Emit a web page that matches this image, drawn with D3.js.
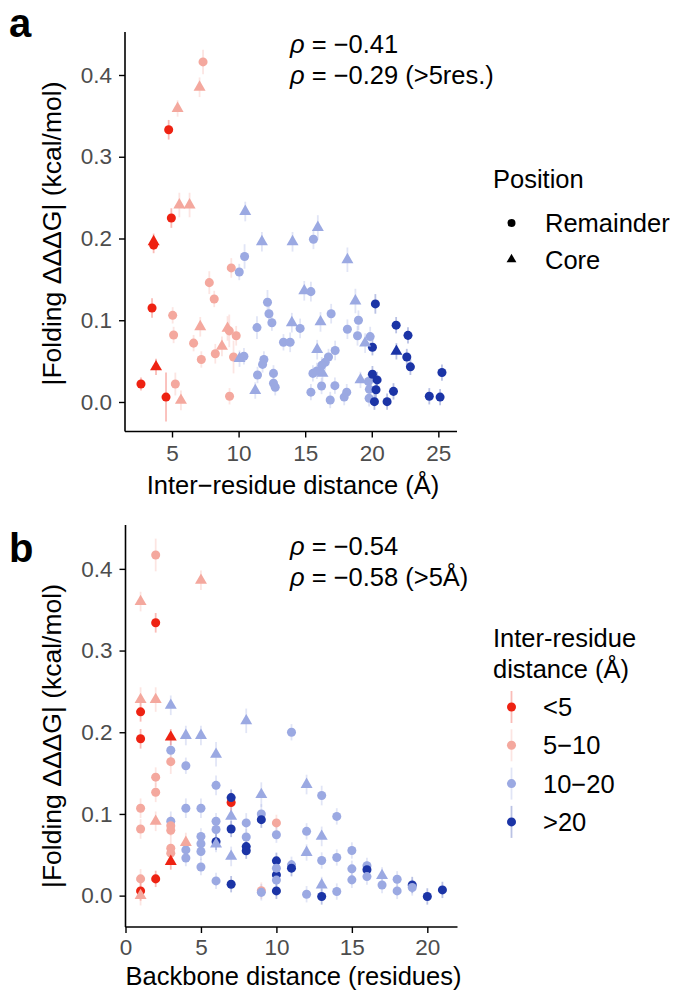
<!DOCTYPE html>
<html>
<head>
<meta charset="utf-8">
<script src="https://cdn.jsdelivr.net/npm/d3@7"></script>
<style>
  html, body { margin: 0; padding: 0; background: #fff; }
  svg { display: block; font-family: "Liberation Sans", Arial, sans-serif; }
</style>
</head>
<body>
<svg id="fig" width="676" height="994"></svg>
<script>
// Distance bins (colour) and their labels
const binLabels = ["<5", "5\u221210", "10\u221220", ">20"];
const binColors = ["#EE2212", "#F4A89E", "#9BA9E2", "#1B34A6"];
const shapeLabels = ["Remainder", "Core"];

// Panel a: [inter-residue distance (Å), |ΔΔG|, error]
const remainderA = [
  [4.75,0.333,0.012],[4.95,0.225,0.012],[3.62,0.192,0.010],[3.5,0.115,0.012],
  [2.67,0.022,0.008],[4.55,0.006,0.030],
  [7.33,0.416,0.015],[9.45,0.164,0.012],[7.8,0.146,0.014],[8.17,0.126,0.010],
  [5.05,0.106,0.010],[9.82,0.081,0.012],[5.12,0.082,0.010],[6.62,0.072,0.010],
  [8.25,0.059,0.012],[9.62,0.055,0.020],[7.2,0.052,0.010],[5.25,0.022,0.014],
  [9.32,0.007,0.010],[9.3,0.087,0.020],
  [10.45,0.178,0.015],[10.05,0.159,0.010],[12.17,0.122,0.015],[12.28,0.108,0.012],
  [12.5,0.097,0.010],[11.38,0.091,0.014],[13.37,0.073,0.010],[13.87,0.073,0.012],
  [10.4,0.056,0.010],[11.9,0.052,0.010],[11.8,0.046,0.010],[11.42,0.033,0.010],
  [12.62,0.035,0.010],[12.62,0.023,0.010],[12.75,0.018,0.010],[15.62,0.199,0.012],
  [15.43,0.135,0.012],[16.95,0.108,0.012],[19.0,0.100,0.012],[14.62,0.090,0.012],
  [18.17,0.089,0.012],[18.93,0.081,0.012],[19.88,0.080,0.012],[17.25,0.063,0.012],
  [16.75,0.055,0.010],[16.5,0.0485,0.010],[16.25,0.045,0.010],[15.88,0.038,0.010],
  [15.58,0.035,0.010],[19.75,0.025,0.010],[19.82,0.0155,0.010],[15.43,0.012,0.010],
  [16.23,0.0196,0.010],[17.23,0.020,0.010],[18.12,0.012,0.010],[17.93,0.006,0.010],
  [16.88,0.0024,0.010],[19.8,0.0045,0.010],
  [20.27,0.120,0.012],[21.83,0.094,0.010],[22.72,0.0815,0.010],[20.05,0.067,0.010],
  [22.63,0.055,0.010],[22.9,0.043,0.010],[25.27,0.036,0.010],[20.05,0.034,0.010],
  [20.4,0.027,0.010],[20.32,0.015,0.010],[21.63,0.013,0.010],[24.32,0.007,0.010],
  [25.13,0.006,0.010],[20.2,0.0004,0.010],[21.15,0.0004,0.010]
];
const coreA = [
  [7.07,0.385,0.012],[5.42,0.359,0.010],[5.55,0.241,0.015],[6.32,0.241,0.015],
  [7.12,0.092,0.012],[9.17,0.090,0.015],[8.75,0.068,0.012],[5.67,0.002,0.012],
  [3.62,0.196,0.010],[3.8,0.043,0.010],
  [10.5,0.233,0.012],[11.75,0.196,0.012],[14.05,0.196,0.012],[15.95,0.2135,0.015],
  [18.17,0.174,0.015],[14.93,0.136,0.012],[18.77,0.1235,0.015],[14.0,0.097,0.012],
  [16.15,0.098,0.012],[19.5,0.072,0.012],[15.9,0.064,0.012],[10.07,0.053,0.010],
  [11.25,0.014,0.010],[16.3,0.035,0.010],[19.15,0.027,0.010],
  [21.85,0.062,0.010]
];

// Panel b: [backbone distance (residues), |ΔΔG|, error, distance bin]
const remainderB = [
  [2,0.417,0.020,1],[2,0.334,0.012,0],[1,0.225,0.012,0],[11,0.200,0.010,2],
  [1,0.192,0.012,0],[3,0.178,0.012,2],[3,0.164,0.015,1],[4,0.159,0.010,2],
  [2,0.145,0.012,1],[2,0.1265,0.012,1],[6,0.135,0.012,2],[7,0.114,0.012,0],
  [7,0.120,0.010,3],[1,0.107,0.012,1],[4,0.107,0.012,2],[5,0.107,0.012,2],
  [9,0.100,0.012,2],[9,0.093,0.010,3],[1,0.0816,0.012,1],[3,0.091,0.012,2],
  [3,0.0856,0.012,1],[3,0.080,0.012,1],[6,0.091,0.010,2],[6,0.081,0.010,2],
  [7,0.0816,0.010,3],[8,0.089,0.012,2],[10,0.089,0.010,1],[10,0.0746,0.010,2],
  [5,0.0725,0.010,2],[5,0.0635,0.010,2],[5,0.054,0.010,2],[8,0.0717,0.010,2],
  [6,0.066,0.010,3],[4,0.056,0.010,2],[4,0.046,0.010,2],[3,0.058,0.010,1],
  [3,0.052,0.010,1],[8,0.060,0.010,3],[8,0.055,0.010,3],[5,0.035,0.010,2],
  [10,0.0426,0.010,3],[10,0.0254,0.010,3],[10,0.0336,0.010,2],[10,0.019,0.010,2],
  [11,0.0377,0.010,2],[11,0.0336,0.010,3],[1,0.0205,0.012,1],[2,0.0205,0.010,0],
  [6,0.018,0.010,2],[7,0.014,0.010,3],[1,0.0058,0.012,0],[9,0.0061,0.010,1],
  [9,0.004,0.010,2],[10,0.0058,0.010,3],[13,0.1225,0.012,2],[14,0.097,0.010,2],
  [12,0.0787,0.010,2],[13,0.043,0.010,2],[14,0.0467,0.010,2],[15,0.0553,0.010,2],
  [15,0.0328,0.010,2],[16,0.0365,0.010,2],[16,0.0316,0.010,3],[15,0.0193,0.010,2],
  [16,0.0233,0.010,2],[17,0.013,0.010,2],[18,0.020,0.010,2],[18,0.0058,0.010,2],
  [19,0.013,0.010,3],[19,0.010,0.010,2],[20,-0.001,0.010,3],[21,0.007,0.010,3],
  [12,0.0017,0.010,2],[13,-0.001,0.010,3],[14,0.005,0.010,2]
];
const coreB = [
  [5,0.386,0.012,1],[1,0.360,0.012,1],[1,0.240,0.015,1],[2,0.240,0.015,1],
  [3,0.233,0.012,2],[8,0.214,0.015,2],[3,0.194,0.010,0],[4,0.196,0.012,2],
  [5,0.196,0.012,2],[6,0.173,0.015,2],[9,0.1237,0.015,2],[2,0.091,0.012,1],
  [7,0.097,0.012,2],[4,0.065,0.012,1],[6,0.063,0.010,2],[3,0.0418,0.010,0],
  [7,0.048,0.012,2],[1,0.000,0.012,1],[12,0.136,0.012,2],[13,0.0725,0.012,2],
  [12,0.0528,0.010,2],[17,0.0246,0.010,2],[13,0.013,0.010,2]
];

// Axis ticks and correlation annotations
const yTicks = [0.0, 0.1, 0.2, 0.3, 0.4];
const xTicksA = [5, 10, 15, 20, 25];
const xTicksB = [0, 5, 10, 15, 20];
const rhoA = ["\u22120.41", "\u22120.29 (>5res.)"];
const rhoB = ["\u22120.54", "\u22120.58 (>5\u00C5)"];

const svg = d3.select("#fig");
const TXT = 25.5;   // title / legend / annotation size
const TICK = 22.5;  // tick label size

function binOf(d) { return d < 5 ? 0 : d < 10 ? 1 : d < 20 ? 2 : 3; }

function panel(opts) {
  const g = svg.append("g");
  const x = d3.scaleLinear().domain(opts.xDomain).range([opts.left, opts.right]);
  const y = d3.scaleLinear().domain(opts.yDomain).range([opts.bottom, opts.top]);

  // error bars first, then symbols
  const pts = opts.points;
  g.append("g").selectAll("line").data(pts).join("line")
    .attr("x1", d => x(d.x)).attr("x2", d => x(d.x))
    .attr("y1", d => y(d.y - d.e)).attr("y2", d => y(d.y + d.e))
    .attr("stroke", d => binColors[d.bin]).attr("stroke-opacity", 0.3)
    .attr("stroke-width", 1.8);
  const circle = d3.symbol().type(d3.symbolCircle).size(64);
  const tri = d3.symbol().type(d3.symbolTriangle).size(62);
  g.append("g").selectAll("path").data(pts).join("path")
    .attr("transform", d => `translate(${x(d.x)},${y(d.y)})`)
    .attr("d", d => d.core ? tri() : circle())
    .attr("fill", d => binColors[d.bin]);

  // axes
  const yAxis = d3.axisLeft(y).tickValues(yTicks).tickFormat(d3.format(".1f")).tickSize(6).tickPadding(7);
  const xAxis = d3.axisBottom(x).tickValues(opts.xTicks).tickFormat(d3.format("d")).tickSize(6).tickPadding(opts.xPad);
  const ya = g.append("g").attr("transform", `translate(${opts.left},0)`).call(yAxis);
  const xa = g.append("g").attr("transform", `translate(0,${opts.bottom})`).call(xAxis);
  [ya, xa].forEach(a => {
    a.select(".domain").attr("stroke", "#000").attr("stroke-width", 1.6)
      .attr("d", a === ya ? `M0,${opts.top}V${opts.bottom}` : `M${opts.left},0H${opts.right}`);
    a.selectAll(".tick line").attr("stroke", "#000").attr("stroke-width", 1.4);
    a.selectAll(".tick text").attr("fill", "#4D4D4D").style("font-size", TICK + "px")
      .style("font-family", "Liberation Sans, Arial, sans-serif");
  });
  xa.selectAll(".tick text").attr("dy", "0.71em");

  // titles
  g.append("text").attr("x", (opts.left + opts.right) / 2 + 2).attr("y", opts.xTitleY)
    .attr("text-anchor", "middle").style("font-size", TXT + "px").text(opts.xTitle);
  g.append("text")
    .attr("transform", `translate(61,${opts.yTitleMid}) rotate(-90)`)
    .attr("text-anchor", "middle").style("font-size", (TXT + 1) + "px")
    .text("|Folding \u0394\u0394\u0394G| (kcal/mol)");

  // panel letter
  g.append("text").attr("x", 9).attr("y", opts.letterY)
    .style("font-size", "40px").style("font-weight", "bold").text(opts.letter);

  // correlation text
  opts.rho.forEach((r, i) => {
    const t = g.append("text").attr("x", 290).attr("y", opts.rhoY[i])
      .style("font-size", TXT + "px");
    t.append("tspan").style("font-style", "italic").text("\u03C1");
    t.append("tspan").text(" = " + r);
  });
  return g;
}

const ptsA = [];
remainderA.forEach(d => ptsA.push({x: d[0], y: d[1], e: d[2], bin: binOf(d[0]), core: false}));
coreA.forEach(d => ptsA.push({x: d[0], y: d[1], e: d[2], bin: binOf(d[0]), core: true}));
const ptsB = [];
remainderB.forEach(d => ptsB.push({x: d[0], y: d[1], e: d[2], bin: d[3], core: false}));
coreB.forEach(d => ptsB.push({x: d[0], y: d[1], e: d[2], bin: d[3], core: true}));

panel({
  points: ptsA, xDomain: [1.47, 26.4], yDomain: [-0.0361, 0.4526],
  left: 125, right: 457, top: 32, bottom: 431.5, xTicks: xTicksA, xPad: 8,
  xTitle: "Inter\u2212residue distance (\u00C5)", xTitleY: 494, yTitleMid: 233.5,
  letter: "a", letterY: 37, rho: rhoA, rhoY: [53, 83.5]
});
panel({
  points: ptsB, xDomain: [0, 22], yDomain: [-0.0384, 0.4537],
  left: 125.5, right: 457.5, top: 525, bottom: 927, xTicks: xTicksB, xPad: 6,
  xTitle: "Backbone distance (residues)", xTitleY: 985, yTitleMid: 736,
  letter: "b", letterY: 562, rho: rhoB, rhoY: [555, 586]
});

// legend: shape
const lgA = svg.append("g");
lgA.append("text").attr("x", 493).attr("y", 188).style("font-size", TXT + "px").text("Position");
shapeLabels.forEach((s, i) => {
  const cy = 223 + i * 36.5;
  lgA.append("path").attr("transform", `translate(511.5,${cy})`)
    .attr("d", d3.symbol().type(i ? d3.symbolTriangle : d3.symbolCircle).size(i ? 42 : 50)())
    .attr("fill", "#000");
  lgA.append("text").attr("x", 545).attr("y", cy + 9).style("font-size", TXT + "px").text(s);
});

// legend: distance bins
const lgB = svg.append("g");
lgB.append("text").attr("x", 493).attr("y", 647).style("font-size", TXT + "px").text("Inter-residue");
lgB.append("text").attr("x", 493).attr("y", 678).style("font-size", TXT + "px").text("distance (\u00C5)");
binLabels.forEach((s, i) => {
  const cy = 707 + i * 38.3;
  lgB.append("line").attr("x1", 511.5).attr("x2", 511.5).attr("y1", cy - 16).attr("y2", cy + 16)
    .attr("stroke", binColors[i]).attr("stroke-opacity", 0.3).attr("stroke-width", 1.8);
  lgB.append("path").attr("transform", `translate(511.5,${cy})`)
    .attr("d", d3.symbol().type(d3.symbolCircle).size(64)()).attr("fill", binColors[i]);
  lgB.append("text").attr("x", 543).attr("y", cy + 9).style("font-size", TXT + "px").text(s);
});
</script>
</body>
</html>
